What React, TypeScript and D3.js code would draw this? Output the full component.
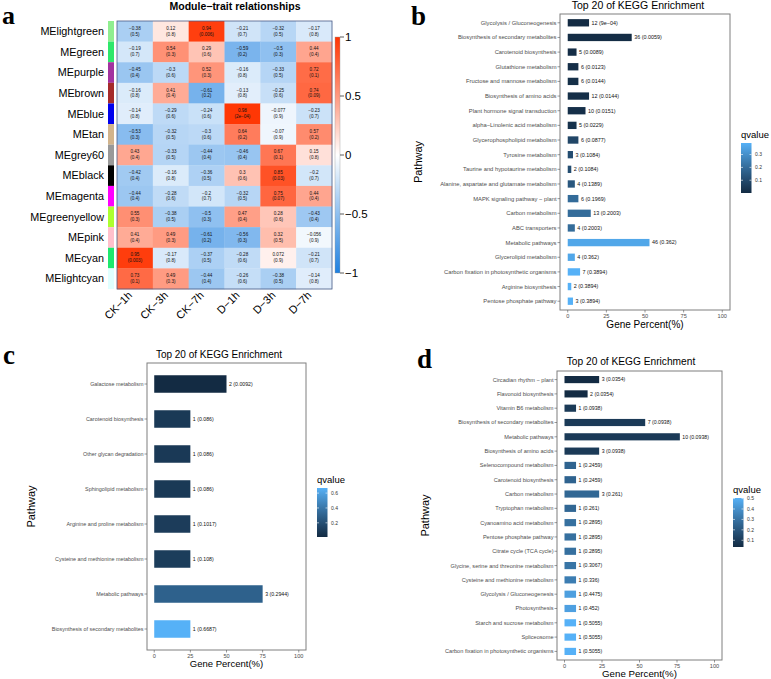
import React from 'react';
import * as d3 from 'd3';

// ---- panel a: module-trait heatmap ----
const traits = ['CK−1h', 'CK−3h', 'CK−7h', 'D−1h', 'D−3h', 'D−7h'];
const modules = ['MElightgreen', 'MEgreen', 'MEpurple', 'MEbrown', 'MEblue', 'MEtan', 'MEgrey60',
  'MEblack', 'MEmagenta', 'MEgreenyellow', 'MEpink', 'MEcyan', 'MElightcyan'];
const moduleColors = ['#90EE90', '#2EE86A', '#A3329F', '#A52A2A', '#0000EE', '#D2B48C', '#999999',
  '#000000', '#FF00FF', '#ADFF2F', '#FFC0CB', '#1EE86E', '#E0FFFF'];
const corr = [
  [-0.38, 0.12, 0.94, -0.21, -0.32, -0.17],
  [-0.19, 0.54, 0.29, -0.59, -0.5, 0.44],
  [-0.45, -0.3, 0.52, -0.16, -0.33, 0.72],
  [-0.16, 0.41, -0.61, -0.13, -0.25, 0.74],
  [-0.14, -0.29, -0.24, 0.98, -0.077, -0.23],
  [-0.53, -0.32, -0.3, 0.64, -0.07, 0.57],
  [0.43, -0.33, -0.44, -0.46, 0.67, 0.15],
  [-0.42, -0.16, -0.36, 0.3, 0.85, -0.2],
  [-0.44, -0.28, -0.2, -0.32, 0.75, 0.44],
  [0.55, -0.38, -0.5, 0.47, 0.28, -0.43],
  [0.41, 0.49, -0.61, -0.56, 0.32, -0.056],
  [0.95, -0.17, -0.37, -0.28, 0.072, -0.21],
  [0.73, 0.49, -0.44, -0.26, -0.38, -0.14],
];
const pvals = [
  ['0.5', '0.8', '0.006', '0.7', '0.5', '0.8'],
  ['0.7', '0.3', '0.6', '0.2', '0.3', '0.4'],
  ['0.4', '0.6', '0.3', '0.8', '0.5', '0.1'],
  ['0.8', '0.4', '0.2', '0.8', '0.6', '0.09'],
  ['0.8', '0.6', '0.6', '2e−04', '0.9', '0.7'],
  ['0.3', '0.5', '0.6', '0.2', '0.9', '0.2'],
  ['0.4', '0.5', '0.4', '0.4', '0.1', '0.8'],
  ['0.4', '0.8', '0.5', '0.6', '0.03', '0.7'],
  ['0.4', '0.6', '0.7', '0.5', '0.07', '0.4'],
  ['0.3', '0.5', '0.3', '0.4', '0.6', '0.4'],
  ['0.4', '0.3', '0.2', '0.3', '0.5', '0.9'],
  ['0.003', '0.8', '0.5', '0.6', '0.9', '0.7'],
  ['0.1', '0.3', '0.4', '0.6', '0.5', '0.8'],
];
const corrTicks = [1, 0.5, 0, -0.5, -1];

// ---- panel b ----
const bPathways = ['Glycolysis / Gluconeogenesis', 'Biosynthesis of secondary metabolites', 'Carotenoid biosynthesis',
  'Glutathione metabolism', 'Fructose and mannose metabolism', 'Biosynthesis of amino acids',
  'Plant hormone signal transduction', 'alpha−Linolenic acid metabolism', 'Glycerophospholipid metabolism',
  'Tyrosine metabolism', 'Taurine and hypotaurine metabolism', 'Alanine, aspartate and glutamate metabolism',
  'MAPK signaling pathway − plant', 'Carbon metabolism', 'ABC transporters', 'Metabolic pathways',
  'Glycerolipid metabolism', 'Carbon fixation in photosynthetic organisms', 'Arginine biosynthesis',
  'Pentose phosphate pathway'];
const bGenes = [12, 36, 5, 6, 6, 12, 10, 5, 6, 3, 2, 4, 6, 13, 4, 46, 4, 7, 2, 3];
const bPercent = [13.8, 41.4, 5.7, 6.9, 6.9, 13.8, 11.5, 5.7, 6.9, 3.4, 2.3, 4.6, 6.9, 14.9, 4.6, 52.9, 4.6, 8.0, 2.3, 3.4];
const bQvalue = ['9e−04', '0.0059', '0.0089', '0.0123', '0.0144', '0.0144', '0.0151', '0.0229', '0.0877', '0.1084',
  '0.1084', '0.1389', '0.1969', '0.2003', '0.2003', '0.362', '0.362', '0.3894', '0.3894', '0.3894'];

// ---- panel c ----
const cPathways = ['Galactose metabolism', 'Carotenoid biosynthesis', 'Other glycan degradation', 'Sphingolipid metabolism',
  'Arginine and proline metabolism', 'Cysteine and methionine metabolism', 'Metabolic pathways',
  'Biosynthesis of secondary metabolites'];
const cGenes = [2, 1, 1, 1, 1, 1, 3, 1];
const cPercent = [50, 25, 25, 25, 25, 25, 75, 25];
const cQvalue = ['0.0092', '0.086', '0.086', '0.086', '0.1017', '0.108', '0.2944', '0.6687'];

// ---- panel d ----
const dPathways = ['Circadian rhythm − plant', 'Flavonoid biosynthesis', 'Vitamin B6 metabolism',
  'Biosynthesis of secondary metabolites', 'Metabolic pathways', 'Biosynthesis of amino acids',
  'Selenocompound metabolism', 'Carotenoid biosynthesis', 'Carbon metabolism', 'Tryptophan metabolism',
  'Cyanoamino acid metabolism', 'Pentose phosphate pathway', 'Citrate cycle (TCA cycle)',
  'Glycine, serine and threonine metabolism', 'Cysteine and methionine metabolism', 'Glycolysis / Gluconeogenesis',
  'Photosynthesis', 'Starch and sucrose metabolism', 'Spliceosome', 'Carbon fixation in photosynthetic organisms'];
const dGenes = [3, 2, 1, 7, 10, 3, 1, 1, 3, 1, 1, 1, 1, 1, 1, 1, 1, 1, 1, 1];
const dPercent = [23.1, 15.4, 7.7, 53.8, 76.9, 23.1, 7.7, 7.7, 23.1, 7.7, 7.7, 7.7, 7.7, 7.7, 7.7, 7.7, 7.7, 7.7, 7.7, 7.7];
const dQvalue = ['0.0354', '0.0354', '0.0938', '0.0938', '0.0938', '0.0938', '0.2459', '0.2459', '0.261', '0.261',
  '0.2895', '0.2895', '0.2895', '0.3067', '0.336', '0.4475', '0.452', '0.5055', '0.5055', '0.5055'];

const SANS = 'Liberation Sans, Arial, sans-serif';
const SERIF = 'Liberation Serif, Times New Roman, serif';

function Heatmap() {
  const x = d3.scaleBand().domain(traits).range([117, 332]);
  const y = d3.scaleBand().domain(modules).range([21, 289]);
  const fill = d3.scaleLinear<string>().domain([-1, 0, 1]).range(['#1E80E0', '#FFFFFF', '#FF3300']);
  const cb = d3.scaleLinear().domain([-1, 1]).range([273, 37]);
  const stops = d3.range(0, 1.001, 0.1);
  return (
    <g>
      <defs>
        <linearGradient id="corrGrad" x1="0" y1="1" x2="0" y2="0">
          {stops.map(t => <stop key={t} offset={t} stopColor={fill(-1 + 2 * t)} />)}
        </linearGradient>
      </defs>
      <text x={2} y={24} fontFamily={SERIF} fontWeight="bold" fontSize={26}>a</text>
      <text x={235} y={10} textAnchor="middle" fontFamily={SANS} fontWeight="bold" fontSize={10.5}>Module−trait relationships</text>
      {modules.map((m, i) => (
        <g key={m}>
          <rect x={108} y={y(m)} width={6} height={y.bandwidth()} fill={moduleColors[i]} />
          <text x={104} y={y(m)! + y.bandwidth() / 2} dy="0.35em" textAnchor="end" fontFamily={SANS} fontSize={10.8}>{m}</text>
          {traits.map((t, j) => {
            const cx = x(t)! + x.bandwidth() / 2;
            const cy = y(m)! + y.bandwidth() / 2;
            return (
              <g key={t}>
                <rect x={x(t)} y={y(m)} width={x.bandwidth() + 0.3} height={y.bandwidth() + 0.3} fill={fill(corr[i][j])} />
                <text x={cx} y={cy - 1.6} textAnchor="middle" fontFamily={SANS} fontSize={4.6} fill="#111">
                  {String(corr[i][j]).replace('-', '−')}
                </text>
                <text x={cx} y={cy + 4.2} textAnchor="middle" fontFamily={SANS} fontSize={4.6} fill="#111">
                  ({pvals[i][j]})
                </text>
              </g>
            );
          })}
        </g>
      ))}
      <rect x={117} y={21} width={215} height={268} fill="none" stroke="#4A5A85" strokeWidth={0.8} />
      {traits.map(t => {
        const cx = x(t)! + x.bandwidth() / 2;
        return (
          <text key={t} transform={`translate(${cx - 2},${296}) rotate(-45)`} textAnchor="end"
            fontFamily={SANS} fontSize={11}>{t}</text>
        );
      })}
      <rect x={335} y={cb(1)} width={5} height={cb(-1) - cb(1)} fill="url(#corrGrad)" stroke="#999" strokeWidth={0.4} />
      {corrTicks.map(v => (
        <g key={v}>
          <line x1={340} x2={344} y1={cb(v)} y2={cb(v)} stroke="#333" strokeWidth={0.8} />
          <text x={345} y={cb(v)} dy="0.35em" fontFamily={SANS} fontSize={11.5}>{String(v).replace('-', '−')}</text>
        </g>
      ))}
    </g>
  );
}

function KeggPanel({ id, letter, letterX, letterY, pathways, genes, percent, qvalue, box, title, legend, axis }) {
  const q = qvalue.map((s: string) => +s.replace('−', '-'));
  const x = d3.scaleLinear().domain([-5, 105]).range([box.x0, box.x1]);
  const y = d3.scaleBand().domain(pathways).range([box.y0, box.y1]).paddingInner(0.5).paddingOuter(0.35);
  const qExt = d3.extent(q) as [number, number];
  const color = d3.scaleLinear<string>().domain(qExt).range(['#132B43', '#56B1F7']).interpolate(d3.interpolateLab);
  const lg = d3.scaleLinear().domain(qExt).range([legend.y1, legend.y0]);
  const stops = d3.range(0, 1.001, 0.1);
  const xTicks = [0, 25, 50, 75, 100];
  return (
    <g>
      <defs>
        <linearGradient id={`q${id}`} x1="0" y1="1" x2="0" y2="0">
          {stops.map(t => <stop key={t} offset={t} stopColor={color(qExt[0] + t * (qExt[1] - qExt[0]))} />)}
        </linearGradient>
      </defs>
      <text x={letterX} y={letterY} fontFamily={SERIF} fontWeight="bold" fontSize={27}>{letter}</text>
      <text x={title.x} y={title.y} textAnchor="middle" fontFamily={SANS} fontSize={title.size}>Top 20 of KEGG Enrichment</text>
      <rect x={box.x0} y={box.y0} width={box.x1 - box.x0} height={box.y1 - box.y0} fill="white" stroke="#7F7F7F" strokeWidth={1} />
      {pathways.map((p: string, i: number) => {
        const yc = y(p)! + y.bandwidth() / 2;
        return (
          <g key={p}>
            <rect x={x(0)} y={y(p)} width={x(percent[i]) - x(0)} height={y.bandwidth()} fill={color(q[i])} />
            <text x={x(percent[i]) + 2.5} y={yc} dy="0.35em" fontFamily={SANS} fontSize={axis.barFont} fill="#111">
              {genes[i]} ({qvalue[i]})
            </text>
            <line x1={box.x0 - 2.5} x2={box.x0} y1={yc} y2={yc} stroke="#555" strokeWidth={0.6} />
            <text x={box.x0 - 3.5} y={yc} dy="0.35em" textAnchor="end" fontFamily={SANS} fontSize={axis.labelFont} fill="#4D4D4D">{p}</text>
          </g>
        );
      })}
      {xTicks.map(t => (
        <g key={t}>
          <line x1={x(t)} x2={x(t)} y1={box.y1} y2={box.y1 + 2.5} stroke="#555" strokeWidth={0.6} />
          <text x={x(t)} y={box.y1 + 7.5} textAnchor="middle" fontFamily={SANS} fontSize={5.6} fill="#4D4D4D">{t}</text>
        </g>
      ))}
      <text x={(box.x0 + box.x1) / 2} y={axis.titleY} textAnchor="middle" fontFamily={SANS} fontSize={axis.titleSize}>Gene Percent(%)</text>
      <text transform={`translate(${axis.pathX},${(box.y0 + box.y1) / 2}) rotate(-90)`} textAnchor="middle"
        fontFamily={SANS} fontSize={11}>Pathway</text>
      <text x={legend.x} y={legend.y0 - 5} fontFamily={SANS} fontSize={9.5}>qvalue</text>
      <rect x={legend.x} y={legend.y0} width={10.5} height={legend.y1 - legend.y0} fill={`url(#q${id})`} />
      {lg.ticks(4).map(t => (
        <g key={t}>
          <line x1={legend.x} x2={legend.x + 2} y1={lg(t)} y2={lg(t)} stroke="white" strokeWidth={0.6} />
          <line x1={legend.x + 8.5} x2={legend.x + 10.5} y1={lg(t)} y2={lg(t)} stroke="white" strokeWidth={0.6} />
          <text x={legend.x + 14} y={lg(t)} dy="0.35em" fontFamily={SANS} fontSize={5} fill="#333">{t}</text>
        </g>
      ))}
    </g>
  );
}

export default function App() {
  return (
    <svg width={771} height={679} style={{ position: 'absolute', left: 0, top: 0, background: 'white' }}>
      <rect width={771} height={679} fill="white" />
      <Heatmap />
      <KeggPanel id="b" letter="b" letterX={411} letterY={25} pathways={bPathways} genes={bGenes} percent={bPercent}
        qvalue={bQvalue} box={{ x0: 560, x1: 730, y0: 14, y1: 310 }} title={{ x: 638, y: 9, size: 10.5 }}
        legend={{ x: 741, y0: 143, y1: 193 }}
        axis={{ barFont: 5.4, labelFont: 5.8, titleY: 328, titleSize: 10, pathX: 422 }} />
      <KeggPanel id="c" letter="c" letterX={3} letterY={364} pathways={cPathways} genes={cGenes} percent={cPercent}
        qvalue={cQvalue} box={{ x0: 147, x1: 306, y0: 363, y1: 650 }} title={{ x: 219, y: 358, size: 10 }}
        legend={{ x: 317, y0: 488, y1: 537 }}
        axis={{ barFont: 5.2, labelFont: 5.4, titleY: 667, titleSize: 9.5, pathX: 35 }} />
      <KeggPanel id="d" letter="d" letterX={417} letterY={368} pathways={dPathways} genes={dGenes} percent={dPercent}
        qvalue={dQvalue} box={{ x0: 557, x1: 722, y0: 371, y1: 660 }} title={{ x: 631, y: 365, size: 10.2 }}
        legend={{ x: 733, y0: 498, y1: 547 }}
        axis={{ barFont: 5.2, labelFont: 5.6, titleY: 677, titleSize: 9.7, pathX: 429 }} />
    </svg>
  );
}
